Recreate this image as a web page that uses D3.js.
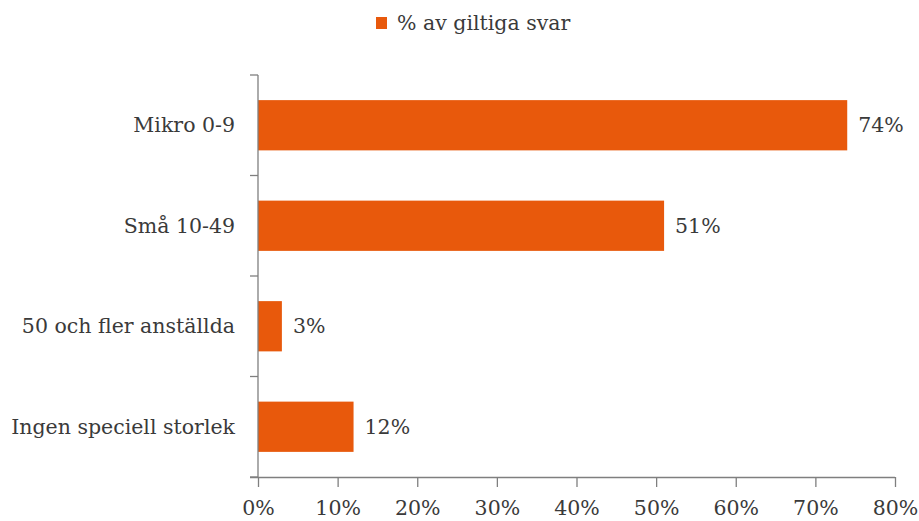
<!DOCTYPE html>
<html>
<head>
<meta charset="utf-8">
<script src="https://cdn.jsdelivr.net/npm/d3@7"></script>
<style>
  html, body { margin: 0; padding: 0; background: #fff; }
  svg { display: block; }
  text { font-family: "DejaVu Serif", "Liberation Serif", serif; fill: #3a3a3a; }
</style>
</head>
<body>
<svg id="chart" width="919" height="521"></svg>
<script>
// Share of valid answers by company size
const categories = ["Mikro 0-9", "Små 10-49", "50 och fler anställda", "Ingen speciell storlek"];
const values = [74, 51, 3, 12];
const xTicks = [0, 10, 20, 30, 40, 50, 60, 70, 80];
const seriesName = "% av giltiga svar";

const barColor = "#E8590C";
const axisColor = "#7f7f7f";
const fontSize = 20.5;

const svg = d3.select("#chart");
const plotLeft = 258, plotRight = 895, plotTop = 75, plotBottom = 477;

const x = d3.scaleLinear().domain([0, 80]).range([plotLeft, plotRight]);
const y = d3.scaleBand().domain(categories).range([plotTop, plotBottom]).paddingInner(0.5).paddingOuter(0.25);

// Bars
svg.append("g").selectAll("rect").data(values).join("rect")
  .attr("x", x(0))
  .attr("y", (d, i) => y(categories[i]))
  .attr("width", d => x(d) - x(0))
  .attr("height", y.bandwidth())
  .attr("fill", barColor);

// Value labels
svg.append("g").selectAll("text").data(values).join("text")
  .attr("x", d => x(d) + 11)
  .attr("y", (d, i) => y(categories[i]) + y.bandwidth() / 2)
  .attr("dy", "0.35em")
  .style("font-size", fontSize + "px")
  .text(d => d + "%");

// X axis
const xAxis = svg.append("g")
  .attr("transform", `translate(0,${plotBottom})`)
  .call(d3.axisBottom(x).tickValues(xTicks).tickFormat(d => d + "%").tickSize(10).tickSizeOuter(0));
xAxis.select(".domain").attr("d", `M${plotLeft - 8},0.5H${plotRight}`);

// Y axis: ticks at band boundaries
const yAxis = svg.append("g").attr("transform", `translate(${plotLeft},0)`);
yAxis.append("line")
  .attr("x1", 0).attr("x2", 0).attr("y1", plotTop).attr("y2", plotBottom)
  .attr("stroke", axisColor).attr("stroke-width", 1.3);
const bounds = d3.range(categories.length + 1).map(i => plotTop + i * y.step());
yAxis.selectAll("line.tk").data(bounds).join("line")
  .attr("class", "tk")
  .attr("x1", -8).attr("x2", 0).attr("y1", d => d).attr("y2", d => d)
  .attr("stroke", axisColor).attr("stroke-width", 1.3);
yAxis.selectAll("text").data(categories).join("text")
  .attr("x", -23)
  .attr("y", d => y(d) + y.bandwidth() / 2)
  .attr("dy", "0.35em")
  .attr("text-anchor", "end")
  .style("font-size", fontSize + "px")
  .text(d => d);

xAxis.selectAll(".domain, .tick line").attr("stroke", axisColor).attr("stroke-width", 1.3);
xAxis.selectAll(".tick text")
  .attr("y", 31)
  .attr("dy", "0.35em")
  .style("font-size", fontSize + "px")
  .style("font-family", "'DejaVu Serif', serif")
  .attr("fill", "#3a3a3a");

// Legend
const legend = svg.append("g").attr("transform", "translate(376,17)");
legend.append("rect").attr("width", 11).attr("height", 12).attr("fill", barColor);
legend.append("text").attr("x", 21).attr("y", 6).attr("dy", "0.35em")
  .style("font-size", fontSize + "px").text(seriesName);
</script>
</body>
</html>
